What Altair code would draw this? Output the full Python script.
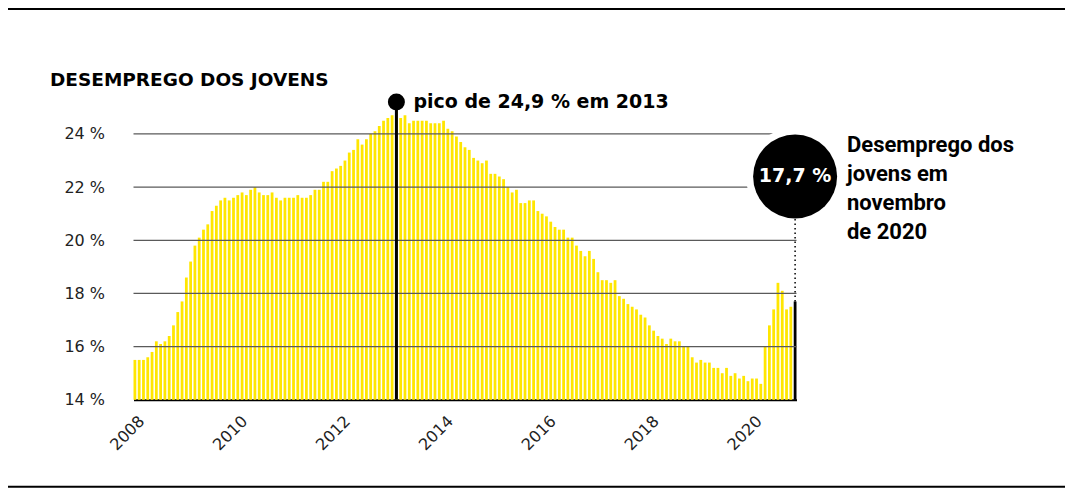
import altair as alt
import pandas as pd

# meses de jan 2008 a nov 2020
meses = pd.date_range("2008-01", "2020-11", freq="MS").strftime("%Y-%m").tolist()

# taxa de desemprego jovem (%)
taxa = [
    15.5, 15.5, 15.5, 15.6, 15.8, 16.2, 16.1, 16.2, 16.4, 16.8, 17.3, 17.7,  # 2008
    18.6, 19.2, 19.8, 20.1, 20.4, 20.6, 21.1, 21.3, 21.5, 21.6, 21.5, 21.6,  # 2009
    21.7, 21.8, 21.7, 21.9, 22.0, 21.8, 21.7, 21.7, 21.8, 21.6, 21.5, 21.6,  # 2010
    21.6, 21.6, 21.7, 21.6, 21.6, 21.7, 21.9, 21.9, 22.2, 22.2, 22.6, 22.7,  # 2011
    22.8, 23.0, 23.3, 23.4, 23.8, 23.6, 23.8, 24.0, 24.1, 24.3, 24.5, 24.6,  # 2012
    24.7, 24.9, 24.6, 24.7, 24.4, 24.5, 24.5, 24.5, 24.5, 24.4, 24.4, 24.4,  # 2013
    24.5, 24.2, 24.1, 23.9, 23.7, 23.5, 23.4, 23.1, 23.0, 22.9, 23.0, 22.5,  # 2014
    22.5, 22.4, 22.3, 22.0, 21.8, 21.9, 21.4, 21.4, 21.5, 21.5, 21.1, 21.0,  # 2015
    20.9, 20.7, 20.5, 20.4, 20.4, 20.1, 20.1, 19.8, 19.6, 19.4, 19.6, 19.3,  # 2016
    18.8, 18.5, 18.5, 18.4, 18.5, 17.9, 17.8, 17.6, 17.5, 17.4, 17.2, 17.1,  # 2017
    16.8, 16.6, 16.4, 16.3, 16.1, 16.3, 16.2, 16.2, 16.0, 16.0, 15.6, 15.4,  # 2018
    15.5, 15.4, 15.4, 15.2, 15.2, 15.0, 15.2, 14.9, 15.0, 14.8, 14.9, 14.7,  # 2019
    14.8, 14.8, 14.6, 16.0, 16.8, 17.4, 18.4, 18.1, 17.4, 17.5, 17.7,        # 2020
]

anos_mes = ["2008-01", "2010-01", "2012-01", "2014-01", "2016-01", "2018-01", "2020-01"]
anos_txt = ["2008", "2010", "2012", "2014", "2016", "2018", "2020"]
ticks_y = [14, 16, 18, 20, 22, 24]
grelha = [16, 18, 20, 22, 24]

titulo = "DESEMPREGO DOS JOVENS"
pico_mes = "2013-02"
pico_txt = "pico de 24,9 % em 2013"
ultimo_txt = "17,7 %"
lado_txt = "Desemprego dos\njovens em\nnovembro\nde 2020"

W, H = 663, 319
AMARELO = "#ffe600"
FONTE = "DejaVu Sans"

df = pd.DataFrame({"mes": meses, "taxa": taxa})
df["cor"] = ["ultimo" if m == meses[-1] else "normal" for m in meses]

x_enc = alt.X("mes:O", scale=alt.Scale(domain=meses, paddingInner=0.35, paddingOuter=0),
              axis=alt.Axis(labels=False, ticks=False, domainColor="black", domainWidth=2,
                            title=None))
y_scale = alt.Scale(domain=[14, 26], nice=False, zero=False)

barras = alt.Chart(df).mark_bar().encode(
    x=x_enc,
    y=alt.Y("taxa:Q", scale=y_scale,
            axis=alt.Axis(values=ticks_y, labelExpr="datum.value + ' %'", grid=False,
                          domain=False, ticks=False, labelFont=FONTE, labelFontSize=16,
                          labelColor="#222", labelPadding=29, title=None)),
    y2=alt.datum(14),
    color=alt.Color("cor:N", scale=alt.Scale(domain=["normal", "ultimo"], range=[AMARELO, "black"]),
                    legend=None),
)

# rótulos dos anos, inclinados
rotulos = alt.Chart(pd.DataFrame({"mes": anos_mes, "ano": anos_txt})).mark_text(
    angle=315, align="right", baseline="top", dx=-8.5, dy=10.5, font=FONTE, fontSize=16,
    color="#222"
).encode(x="mes:O", y=alt.datum(14), text="ano:N")

linhas = alt.Chart(pd.DataFrame({"v": grelha})).mark_rule(color="#5a5a5a", strokeWidth=1.3).encode(
    y=alt.Y("v:Q", scale=y_scale), x=alt.value(0), x2=alt.value(W)
)

pico = pd.DataFrame({"mes": [pico_mes], "topo": [25.2], "base": [14], "txt": [pico_txt]})
pico_linha = alt.Chart(pico).mark_rule(color="black", strokeWidth=3).encode(
    x="mes:O", y="topo:Q", y2="base:Q"
)
pico_ponto = alt.Chart(pico).mark_circle(color="black", opacity=1, size=17 ** 2).encode(
    x="mes:O", y="topo:Q"
)
pico_texto = alt.Chart(pico).mark_text(align="left", baseline="middle", dx=17, font=FONTE,
                                        fontWeight="bold", fontSize=19, color="black").encode(
    x="mes:O", y="topo:Q", text="txt:N"
)

# size de um símbolo = (diâmetro)^2
fim = pd.DataFrame({"mes": [meses[-1]], "circ": [22.4], "val": [taxa[-1]], "txt": [ultimo_txt]})
halo = alt.Chart(fim).mark_circle(color="white", opacity=1, size=98 ** 2).encode(
    x="mes:O", y="circ:Q"
)
pontilhado = alt.Chart(fim).mark_rule(color="black", strokeWidth=1.5, strokeDash=[1.5, 3]).encode(
    x="mes:O", y="val:Q", y2="circ:Q"
)
bola = alt.Chart(fim).mark_circle(color="black", opacity=1, size=84 ** 2).encode(
    x="mes:O", y="circ:Q"
)
bola_texto = alt.Chart(fim).mark_text(align="center", baseline="middle", font=FONTE,
                                       fontWeight="bold", fontSize=19, color="white").encode(
    x="mes:O", y="circ:Q", text="txt:N"
)

lado = alt.Chart(pd.DataFrame({"t": [lado_txt]})).mark_text(
    align="left", baseline="alphabetic", lineBreak="\n", lineHeight=29, font="Roboto",
    fontWeight="bold", fontSize=22, color="black"
).encode(x=alt.value(713.5), y=alt.value(71), text="t:N")

cabecalho = alt.Chart(pd.DataFrame({"t": [titulo]})).mark_text(
    align="left", baseline="alphabetic", font=FONTE, fontWeight="bold", fontSize=18.5, color="black"
).encode(x=alt.value(-83.5), y=alt.value(5), text="t:N")

bordas = alt.Chart(pd.DataFrame({"p": [-71.8, 406]})).mark_rule(color="black", strokeWidth=2).encode(
    y=alt.Y("p:Q", scale=None), x=alt.value(-125.5), x2=alt.value(931.5)
)

chart = alt.layer(
    barras, rotulos, linhas, pico_linha, pico_ponto, pico_texto, halo, pontilhado, bola,
    bola_texto, lado, cabecalho, bordas
).properties(
    width=W, height=H,
    autosize=alt.AutoSizeParams(type="none"),
    padding={"left": 125.5, "top": 72.8, "right": 268.5, "bottom": 88},
).configure_view(stroke=None)

chart.save("out.html", embed_options={"renderer": "svg", "actions": False})
